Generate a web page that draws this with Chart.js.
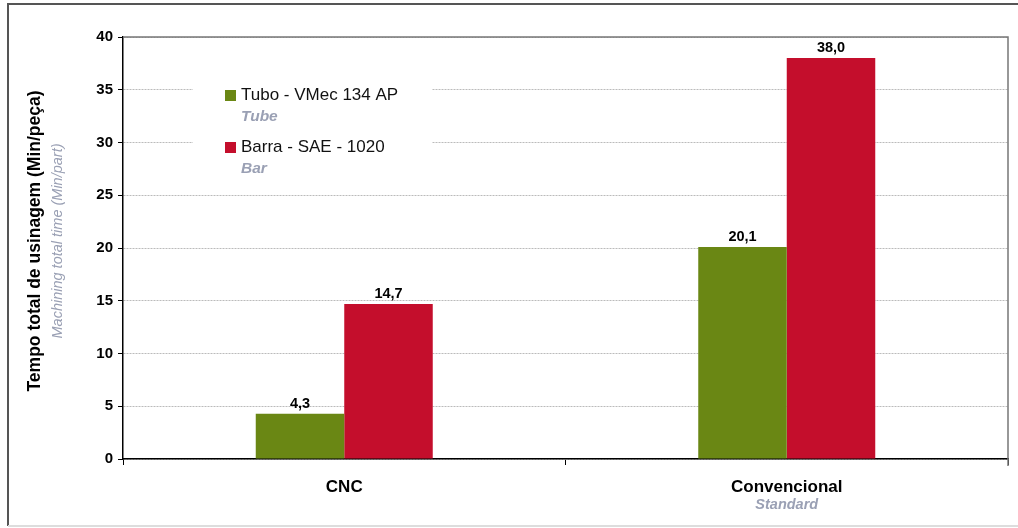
<!DOCTYPE html>
<html>
<head>
<meta charset="utf-8">
<script src="https://cdn.jsdelivr.net/npm/chart.js@4"></script>
<style>
  body { margin: 0; background: #fff; }
  #wrap { width: 1018px; height: 528px; }
</style>
</head>
<body>
<div id="wrap"><canvas id="tempoChart" width="1018" height="528"></canvas></div>
<script>
const categories = ['CNC', 'Convencional'];
const categorySubtitles = ['', 'Standard'];
const seriesNames = ['Tubo - VMec 134 AP', 'Barra - SAE - 1020'];
const seriesSubtitles = ['Tube', 'Bar'];
const tuboValues = [4.3, 20.1];
const barraValues = [14.7, 38.0];
const yMax = 40;
const yStep = 5;
const yTitle = 'Tempo total de usinagem (Min/peça)';
const ySubtitle = 'Machining total time (Min/part)';

const FONT = '"Liberation Sans", Arial, Helvetica, sans-serif';
const GREEN = '#6a8714';
const RED = '#c40e2c';
const SUB_GRAY = '#9aa0b4';

// frame, axis titles, value labels and legend
const decorations = {
    id: 'decorations',
    beforeDraw(chart) {
        const ctx = chart.ctx;
        ctx.save();
        ctx.fillStyle = '#fff';
        ctx.fillRect(0, 0, chart.width, chart.height);
        ctx.strokeStyle = '#555';
        ctx.lineWidth = 2;
        ctx.beginPath();
        ctx.moveTo(1018, 4);
        ctx.lineTo(8, 4);
        ctx.lineTo(8, 526);
        ctx.stroke();
        ctx.strokeStyle = '#ddd';
        ctx.beginPath();
        ctx.moveTo(8, 526);
        ctx.lineTo(1018, 526);
        ctx.stroke();
        ctx.restore();
    },
    afterDraw(chart) {
        const ctx = chart.ctx;
        const area = chart.chartArea;
        ctx.save();

        // top and right plot frame
        ctx.strokeStyle = '#777';
        ctx.lineWidth = 1.5;
        ctx.beginPath();
        ctx.moveTo(area.left, area.top);
        ctx.lineTo(area.right, area.top);
        ctx.lineTo(area.right, area.bottom + 7);
        ctx.stroke();

        // y axis titles
        const midY = (area.top + area.bottom) / 2 - 7;
        ctx.textAlign = 'center';
        ctx.textBaseline = 'middle';
        ctx.save();
        ctx.translate(35, midY);
        ctx.rotate(-Math.PI / 2);
        ctx.fillStyle = '#000';
        ctx.font = 'bold 17.5px ' + FONT;
        ctx.fillText(yTitle, 0, 0);
        ctx.restore();
        ctx.save();
        ctx.translate(58, midY);
        ctx.rotate(-Math.PI / 2);
        ctx.fillStyle = SUB_GRAY;
        ctx.font = 'italic 14.5px ' + FONT;
        ctx.fillText(ySubtitle, 0, 0);
        ctx.restore();

        // x category subtitles
        const xScale = chart.scales.x;
        ctx.fillStyle = SUB_GRAY;
        ctx.font = 'bold italic 14.5px ' + FONT;
        categorySubtitles.forEach((s, i) => {
            if (s) ctx.fillText(s, xScale.getPixelForTick(i), 505);
        });

        // value labels
        ctx.fillStyle = '#000';
        ctx.font = 'bold 14.5px ' + FONT;
        ctx.textBaseline = 'alphabetic';
        chart.data.datasets.forEach((ds, di) => {
            chart.getDatasetMeta(di).data.forEach((bar, i) => {
                ctx.fillText(ds.data[i].toFixed(1).replace('.', ','), bar.x, bar.y - 6);
            });
        });

        // legend
        ctx.fillStyle = '#fff';
        ctx.fillRect(193, 72, 239, 110);
        ctx.textAlign = 'left';
        ctx.textBaseline = 'middle';
        chart.data.datasets.forEach((ds, di) => {
            const y = 95 + di * 52;
            ctx.fillStyle = ds.backgroundColor;
            ctx.fillRect(225, y - 5, 11, 11);
            ctx.fillStyle = '#111';
            ctx.font = '17px ' + FONT;
            ctx.fillText(ds.label, 241, y);
            ctx.fillStyle = SUB_GRAY;
            ctx.font = 'bold italic 15.5px ' + FONT;
            ctx.fillText(seriesSubtitles[di], 241, y + 22);
        });
        ctx.restore();
    }
};

const ctx = document.getElementById('tempoChart').getContext('2d');
new Chart(ctx, {
    type: 'bar',
    data: {
        labels: categories,
        datasets: [{
            label: seriesNames[0],
            data: tuboValues,
            backgroundColor: GREEN
        }, {
            label: seriesNames[1],
            data: barraValues,
            backgroundColor: RED
        }]
    },
    options: {
        responsive: false,
        animation: false,
        devicePixelRatio: 1,
        layout: { padding: { left: 0, right: 10, top: 37, bottom: 0 } },
        categoryPercentage: 0.4,
        barPercentage: 1,
        plugins: {
            legend: { display: false },
            tooltip: { enabled: false }
        },
        scales: {
            x: {
                offset: true,
                grid: {
                    offset: true,
                    drawOnChartArea: false,
                    drawTicks: true,
                    tickLength: 6,
                    tickColor: '#000'
                },
                border: { color: '#000', width: 1.5 },
                ticks: {
                    color: '#000',
                    padding: 12,
                    font: { family: FONT, size: 17, weight: 'bold' }
                },
                afterFit(scale) { scale.height = 69; }
            },
            y: {
                min: 0,
                max: yMax,
                grid: {
                    color: '#bbbbbb',
                    tickColor: '#000',
                    tickLength: 5
                },
                border: { color: '#000', width: 1.5, dash: [2, 1] },
                ticks: {
                    stepSize: yStep,
                    color: '#000',
                    padding: 5,
                    font: { family: FONT, size: 15, weight: 'bold' }
                },
                afterFit(scale) { scale.width = 123; }
            }
        }
    },
    plugins: [decorations]
});
</script>
</body>
</html>
